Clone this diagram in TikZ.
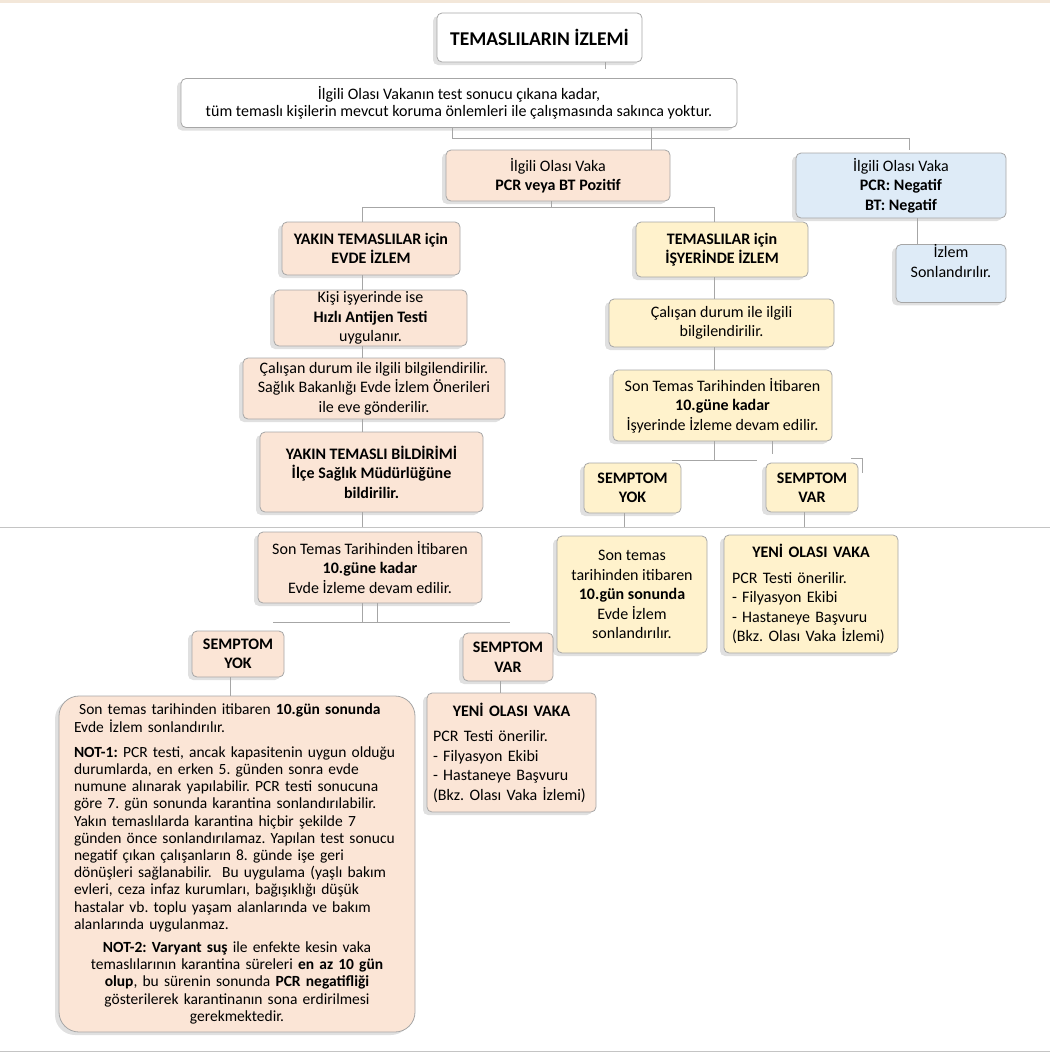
\documentclass[tikz,border=0pt]{standalone}
\usepackage{fontspec}
\setmainfont{Carlito}
\usetikzlibrary{shadows}
\frenchspacing
\definecolor{pinkfill}{HTML}{FBE5D6}
\definecolor{yellowfill}{HTML}{FFF2CC}
\definecolor{bluefill}{HTML}{DEEBF7}
\definecolor{boxline}{HTML}{A6A6A6}
\definecolor{connline}{HTML}{A6A6A6}
\definecolor{sepline}{HTML}{C4C4C4}
\definecolor{topband}{HTML}{F3E7D9}
\newcommand\bodyfont{\fontsize{16}{19.5}\selectfont}
\newcommand\notefont{\fontsize{15.5}{17.2}\selectfont}
\tikzset{
  flowbox/.style={draw=boxline, line width=0.8pt, rounded corners=5pt, inner sep=0pt,
    align=center, font=\bodyfont,
    drop shadow={shadow xshift=-4pt, shadow yshift=-3pt, opacity=0.12, fill=black}},
  whitebox/.style={flowbox, fill=white},
  pinkbox/.style={flowbox, fill=pinkfill},
  yellowbox/.style={flowbox, fill=yellowfill},
  bluebox/.style={flowbox, fill=bluefill},
  conn/.style={draw=connline, line width=0.9pt},
}
\begin{document}
\begin{tikzpicture}[x=1pt,y=-1pt]
\useasboundingbox (0,0) rectangle (1050,1053);
\fill[topband] (0,0) rectangle (1050,2.5);
\draw[sepline, line width=0.9pt] (0,527) -- (1050,527);
\draw[sepline, line width=0.9pt] (0,1051) -- (1050,1051);
\coordinate (sep) at (0,527);
\coordinate (colL) at (362,0);
\coordinate (colR) at (714,0);

% top
\node[whitebox, minimum width=205pt, minimum height=49pt, font=\fontsize{19.5}{22}\bfseries] (title) at (539.5,37.5) {TEMASLILARIN İZLEMİ};
\node[whitebox, minimum width=556pt, minimum height=49pt, font=\fontsize{16}{16.5}\selectfont] (intro) at (459,103) {İlgili Olası Vakanın test sonucu çıkana kadar,\\ tüm temaslı kişilerin mevcut koruma önlemleri ile çalışmasında sakınca yoktur.};
\node[pinkbox, minimum width=224pt, minimum height=51pt] (pozitif) at (558,175.5) {İlgili Olası Vaka\\ \textbf{PCR veya BT Pozitif}};
\node[bluebox, minimum width=210pt, minimum height=65pt] (negatif) at (901,185.5) {İlgili Olası Vaka\\ \textbf{PCR: Negatif}\\ \textbf{BT: Negatif}};
\node[bluebox, minimum width=110pt, minimum height=53pt] (izlemson) at (951,273.5) {İzlem\\ Sonlandırılır.\\ \strut};

% left column
\node[pinkbox, minimum width=178pt, minimum height=53pt, font=\bodyfont\bfseries] (evde) at (371,248.5) {YAKIN TEMASLILAR için\\ EVDE İZLEM};
\node[pinkbox, minimum width=193pt, minimum height=56pt] (antijen) at (370.5,318) {Kişi işyerinde ise\\ \textbf{Hızlı Antijen Testi}\\ uygulanır.};
\node[pinkbox, minimum width=262pt, minimum height=61pt] (bilgiL) at (374,388.5) {Çalışan durum ile ilgili bilgilendirilir.\\ Sağlık Bakanlığı Evde İzlem Önerileri\\ ile eve gönderilir.};
\node[pinkbox, minimum width=223pt, minimum height=80pt, font=\bodyfont\bfseries] (bildirim) at (371.5,472) {YAKIN TEMASLI BİLDİRİMİ\\ İlçe Sağlık Müdürlüğüne\\ bildirilir.};
\node[pinkbox, minimum width=224pt, minimum height=71pt] (takipL) at (370,567.5) {Son Temas Tarihinden İtibaren\\ \textbf{10.güne kadar}\\ Evde İzleme devam edilir.};
\node[pinkbox, minimum width=92pt, minimum height=46pt, font=\bodyfont\bfseries] (yokL) at (238,654) {SEMPTOM\\ YOK};
\node[pinkbox, minimum width=90pt, minimum height=48pt, font=\bodyfont\bfseries] (varL) at (508,657) {SEMPTOM\\ VAR};
\node[pinkbox, rounded corners=20pt, minimum width=356pt, minimum height=336pt, text width=326pt, align=left, font=\notefont] (notL) at (237,864) {\ Son temas tarihinden itibaren \textbf{10.gün sonunda}\\
Evde İzlem sonlandırılır.\\[8pt]
\textbf{NOT-1:} PCR testi, ancak kapasitenin uygun olduğu\\
durumlarda, en erken 5. günden sonra evde\\
numune alınarak yapılabilir. PCR testi sonucuna\\
göre 7. gün sonunda karantina sonlandırılabilir.\\
Yakın temaslılarda karantina hiçbir şekilde 7\\
günden önce sonlandırılamaz. Yapılan test sonucu\\
negatif çıkan çalışanların 8. günde işe geri\\
dönüşleri sağlanabilir. \ Bu uygulama (yaşlı bakım\\
evleri, ceza infaz kurumları, bağışıklığı düşük\\
hastalar vb. toplu yaşam alanlarında ve bakım\\
alanlarında uygulanmaz.\\[6pt]
\makebox[\linewidth]{\textbf{NOT-2: Varyant suş} ile enfekte kesin vaka}\\
\makebox[\linewidth]{temaslılarının karantina süreleri \textbf{en az 10 gün}}\\
\makebox[\linewidth]{\textbf{olup}, bu sürenin sonunda \textbf{PCR negatifliği}}\\
\makebox[\linewidth]{gösterilerek karantinanın sona erdirilmesi}\\
\makebox[\linewidth]{gerekmektedir.}};
\node[pinkbox, minimum width=169pt, minimum height=119pt, text width=157pt, align=left] (yeniL) at (511.5,752.5) {\makebox[\linewidth]{\textbf{YENİ OLASI VAKA}}\\[6pt]
PCR Testi önerilir.\\ - Filyasyon Ekibi\\ - Hastaneye Başvuru\\ (Bkz. Olası Vaka İzlemi)};

% right column
\node[yellowbox, minimum width=172pt, minimum height=55pt, font=\bodyfont\bfseries] (isyeri) at (722,249.5) {TEMASLILAR için\\ İŞYERİNDE İZLEM};
\node[yellowbox, minimum width=225pt, minimum height=48pt] (bilgiR) at (721.5,323) {Çalışan durum ile ilgili\\ bilgilendirilir.};
\node[yellowbox, minimum width=219pt, minimum height=71pt] (takipR) at (722.5,405.5) {Son Temas Tarihinden İtibaren\\ \textbf{10.güne kadar}\\ İşyerinde İzleme devam edilir.};
\node[yellowbox, minimum width=97pt, minimum height=50pt, font=\bodyfont\bfseries] (yokR) at (632.5,488) {SEMPTOM\\ YOK};
\node[yellowbox, minimum width=92pt, minimum height=49pt, font=\bodyfont\bfseries] (varR) at (812,487.5) {SEMPTOM\\ VAR};
\node[yellowbox, minimum width=150pt, minimum height=117pt] (sonR) at (632,594.5) {Son temas\\ tarihinden itibaren\\ \textbf{10.gün sonunda}\\ Evde İzlem\\ sonlandırılır.};
\node[yellowbox, minimum width=174pt, minimum height=118pt, text width=158pt, align=left] (yeniR) at (811,594) {\makebox[\linewidth]{\textbf{YENİ OLASI VAKA}}\\[6pt]
PCR Testi önerilir.\\ - Filyasyon Ekibi\\ - Hastaneye Başvuru\\ (Bkz. Olası Vaka İzlemi)};

% connectors
\draw[conn] ([xshift=66pt]title.south) -- ++(0,7);
\draw[conn] ([xshift=192pt]intro.south) -- ([xshift=93pt]pozitif.north);
\draw[conn] ([xshift=-7pt]intro.south) -- ++(0,11) -| ([xshift=8pt,yshift=3pt]negatif.north);
\draw[conn] ([xshift=16pt]negatif.south) -- ([xshift=-34pt]izlemson.north);
\draw[conn] ([xshift=-7pt]pozitif.south) -- ++(0,6) coordinate (pz);
\draw[conn] (pz) -| ([xshift=-9pt]evde.north);
\draw[conn] (pz) -| ([xshift=-8pt]isyeri.north);

\draw[conn] (evde.south -| colL) -- (antijen.north -| colL);
\draw[conn] (antijen.south -| colL) -- (bilgiL.north -| colL);
\draw[conn] (bilgiL.south -| colL) -- (bildirim.north -| colL);
\draw[conn] (bildirim.south -| colL) -- (sep -| colL);
\draw[conn] (takipL.south -| colL) -- ++(0,19) coordinate (tl);
\draw[conn] ([xshift=7pt]takipL.south) -- ++(0,19);
\draw[conn] ([xshift=-89pt]tl) -- ([xshift=148pt]tl);
\draw[conn] ([xshift=-8pt]yokL.south) -- ([xshift=-7pt]notL.north);
\draw[conn] ([xshift=-8pt]varL.south) -- ([xshift=-11.5pt]yeniL.north);

\draw[conn] (isyeri.south -| colR) -- (bilgiR.north -| colR);
\draw[conn] (bilgiR.south -| colR) -- (takipR.north -| colR);
\draw[conn] (takipR.south -| colR) -- ++(0,19) coordinate (tr);
\draw[conn] ([xshift=-42pt]tr) -- ([xshift=43pt]tr);
\draw[conn] ([xshift=49.5pt]takipR.south) -- ++(0,13);
\draw[conn] ([xshift=-7pt,yshift=4pt]varR.north east) -| ([xshift=4pt,yshift=-10pt]varR.north east);
\draw[conn] ([xshift=-8.5pt]yokR.south) coordinate (yr) -- (yr |- sep);
\draw[conn] ([xshift=-8pt]varR.south) coordinate (vr) -- (vr |- sep);
\end{tikzpicture}
\end{document}
